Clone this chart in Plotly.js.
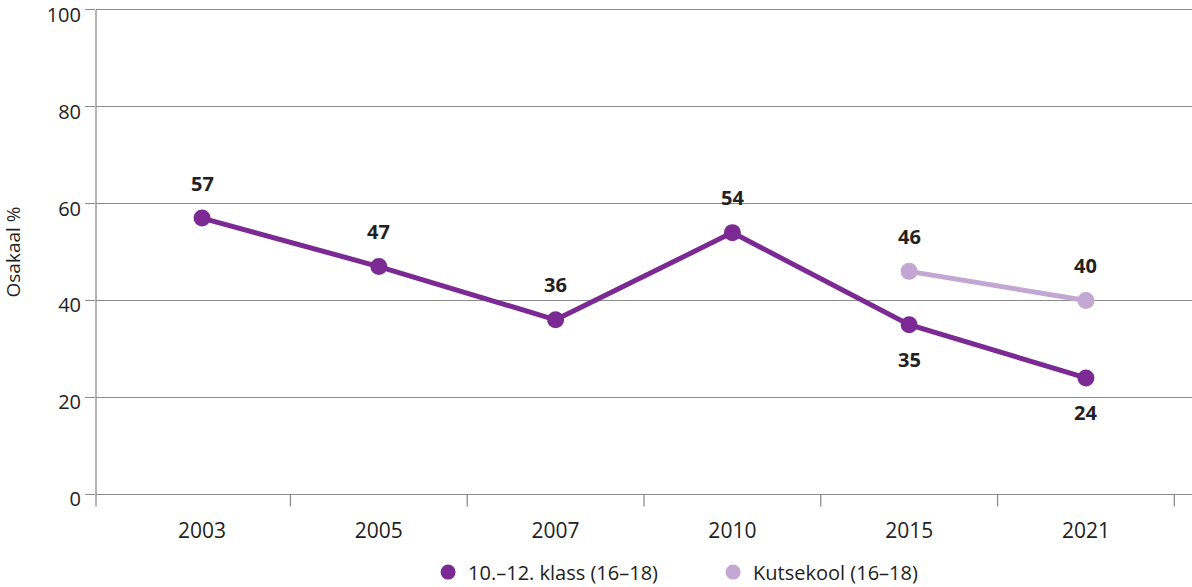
<!DOCTYPE html>
<html>
<head>
<meta charset="utf-8">
<script src="https://cdn.plot.ly/plotly-3.0.1.min.js"></script>
<style>html,body{margin:0;padding:0;background:#fff}#chart{width:1192px;height:587px}</style>
</head>
<body>
<div id="chart"></div>
<script>
const years = ["2003","2005","2007","2010","2015","2021"];
const klassValues = [57, 47, 36, 54, 35, 24];
const klassLabelPos = ["above","above","above","above","below","below"];
const kutseYears = ["2015","2021"];
const kutseValues = [46, 40];
const kutseLabelPos = ["above","above"];
const seriesNames = ["10.–12. klass (16–18)", "Kutsekool (16–18)"];
const yTicks = [0, 20, 40, 60, 80, 100];

const darkPurple = "#7A2A92";
const lightPurple = "#C1A7D1";
const font = "Open Sans, Lato, sans-serif";
const grey = "#8c8c8c";

const yRange = [-1, 101];
const yPaper = v => (v - yRange[0]) / (yRange[1] - yRange[0]);
const idx = y => years.indexOf(y);

const traces = [
  {
    x: years.map(idx), y: klassValues, name: seriesNames[0], type: "scatter", mode: "lines+markers",
    line: {color: darkPurple, width: 5}, marker: {color: darkPurple, size: 17}, showlegend: false
  },
  {
    x: kutseYears.map(idx), y: kutseValues, name: seriesNames[1], type: "scatter", mode: "lines+markers",
    line: {color: lightPurple, width: 5}, marker: {color: lightPurple, size: 17}, showlegend: false
  },
  {x: [null], y: [null], name: seriesNames[0], type: "scatter", mode: "markers",
   marker: {color: darkPurple, size: 15}},
  {x: [null], y: [null], name: seriesNames[1], type: "scatter", mode: "markers",
   marker: {color: lightPurple, size: 15}}
];

const annotations = [];
function addLabels(xs, vals, pos) {
  xs.forEach((yr, i) => {
    annotations.push({
      x: idx(yr), y: vals[i], xref: "x", yref: "y", text: "<b>" + vals[i] + "</b>",
      showarrow: false, yshift: pos[i] === "above" ? 35 : -35,
      font: {family: font, size: 20, color: "#222"}
    });
  });
}
addLabels(years, klassValues, klassLabelPos);
addLabels(kutseYears, kutseValues, kutseLabelPos);

const layout = {
  width: 1192, height: 587,
  margin: {l: 96, r: 0, t: 5, b: 88, autoexpand: false},
  paper_bgcolor: "#fff", plot_bgcolor: "#fff",
  font: {family: font, color: "#222"},
  showlegend: true,
  legend: {orientation: "h", x: 0.303, xanchor: "left", y: -0.148, yanchor: "middle",
           font: {family: font, size: 20, color: "#222"}, entrywidth: 240, entrywidthmode: "pixels"},
  xaxis: {
    range: [-0.6, 5.6], tickmode: "array", tickvals: years.map(idx), ticktext: years,
    showgrid: false, zeroline: false, showline: false,
    tickfont: {family: font, size: 21, color: "#222"},
    ticks: "", ticklabelstandoff: 17, fixedrange: true
  },
  yaxis: {
    range: yRange, tickvals: yTicks, showgrid: true, gridcolor: grey, gridwidth: 1.3,
    zeroline: false, showline: false, ticklabeloverflow: "allow", ticklabelshift: 5,
    ticks: "outside", ticklen: 10, tickcolor: grey, tickwidth: 1.3,
    tickfont: {family: font, size: 20, color: "#222"},
    title: {text: "Osakaal %", font: {family: font, size: 19, color: "#222"}, standoff: 22}
  },
  shapes: [
    {type: "line", xref: "paper", yref: "paper", x0: 0, x1: 0, y0: -0.015, y1: yPaper(100),
     line: {color: grey, width: 1.3}}
  ],
  annotations: annotations
};

for (let i = 1; i <= years.length; i++) {
  const xb = i - 0.5;
  layout.shapes.push({type: "line", xref: "x", yref: "paper", x0: xb, x1: xb, y0: yPaper(0), y1: -0.015,
                      line: {color: grey, width: 1.3}});
}

Plotly.newPlot("chart", traces, layout, {displayModeBar: false, staticPlot: true});
</script>
</body>
</html>
